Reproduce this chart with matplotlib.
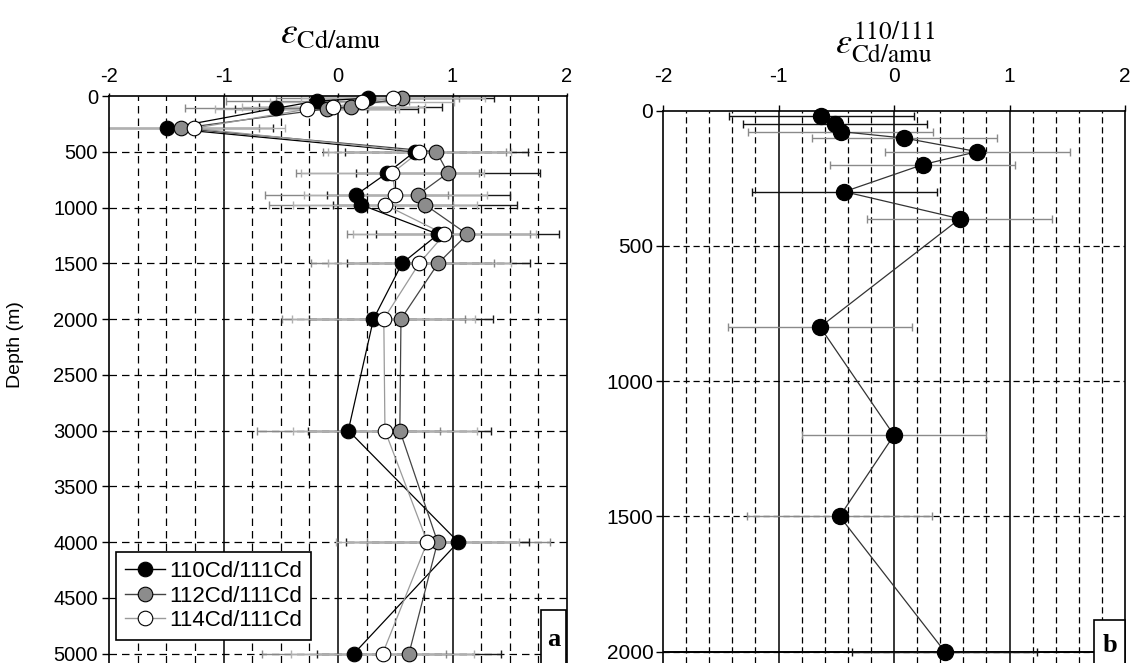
import matplotlib
matplotlib.use('Agg')
import matplotlib.pyplot as plt
from matplotlib.lines import Line2D
from matplotlib.patches import Rectangle

plt.rcParams['font.family'] = ['Liberation Sans', 'DejaVu Sans']
plt.rcParams['mathtext.fontset'] = 'stix'
plt.rcParams['axes.unicode_minus'] = False

# ---------------- data: panel a ----------------
a_black_depth = [20, 45, 110, 290, 500, 690, 885, 975, 1240, 1500, 2000, 3000, 4000, 5000]
a_black_eps = [0.26, -0.18, -0.54, -1.49, 0.67, 0.43, 0.16, 0.20, 0.875, 0.56, 0.31, 0.09, 1.05, 0.14]
a_black_err = [0.8, 0.8, 0.8, 0.8, 0.8, 0.8, 0.8, 0.8, 0.8, 0.8, 0.8, 0.8, 0.8, 0.8]

a_gray_depth = [20, 95, 115, 290, 500, 690, 885, 975, 1240, 1500, 2000, 3000, 4000, 5000]
a_gray_eps = [0.56, 0.11, -0.10, -1.37, 0.86, 0.96, 0.70, 0.76, 1.13, 0.875, 0.55, 0.54, 0.87, 0.62]
a_gray_err = [0.8, 0.8, 0.8, 0.8, 0.8, 0.8, 0.8, 0.8, 0.8, 0.8, 0.8, 0.8, 0.8, 0.8]

a_white_depth = [20, 57, 95, 118, 290, 500, 690, 885, 975, 1240, 1500, 2000, 3000, 4000, 5000]
a_white_eps = [0.48, 0.21, -0.04, -0.27, -1.26, 0.71, 0.475, 0.50, 0.41, 0.93, 0.71, 0.40, 0.41, 0.78, 0.39]
a_white_err = [0.8, 0.8, 0.8, 0.8, 0.8, 0.8, 0.8, 0.8, 0.8, 0.8, 0.8, 0.8, 0.8, 0.8, 0.8]

legend_labels = ['110Cd/111Cd', '112Cd/111Cd', '114Cd/111Cd']

# ---------------- data: panel b ----------------
b_depth = [22, 50, 78, 102, 152, 200, 300, 400, 800, 1200, 1500, 2000]
b_eps = [-0.63, -0.51, -0.46, 0.09, 0.72, 0.25, -0.43, 0.57, -0.64, 0.0, -0.47, 0.44]
b_err = [0.8, 0.8, 0.8, 0.8, 0.8, 0.8, 0.8, 0.8, 0.8, 0.8, 0.8, 0.8]

x_ticks = [-2, -1, 0, 1, 2]
a_y_ticks = [0, 500, 1000, 1500, 2000, 2500, 3000, 3500, 4000, 4500, 5000]
b_y_ticks = [0, 500, 1000, 1500, 2000]

W, H = 1131, 663
fig = plt.figure(figsize=(W / 100, H / 100), dpi=100)

axA = fig.add_axes([109 / W, 0, 458 / W, (H - 96) / H])
axB = fig.add_axes([663 / W, 0, 462 / W, (H - 110.5) / H])


def style(ax, ybottom, yticks, minor_step, dash, fs, xpad, xlen, ylen, ypad):
    ax.set_xlim(-2, 2)
    ax.set_ylim(ybottom, 0)
    ax.xaxis.tick_top()
    ax.set_xticks(x_ticks)
    ax.set_xticklabels([str(v) for v in x_ticks])
    ax.set_yticks(yticks)
    ax.set_yticklabels([str(v) for v in yticks])
    ax.tick_params(axis='x', direction='out', length=xlen, width=1, pad=xpad, labelsize=fs)
    ax.tick_params(axis='y', direction='out', length=ylen, width=1, pad=ypad, labelsize=fs)
    for s in ['top', 'left', 'right']:
        ax.spines[s].set_linewidth(1.2)
    ax.spines['bottom'].set_visible(False)
    n = int(round(4 / minor_step))
    for i in range(1, n):
        xv = -2 + i * minor_step
        if abs(xv - round(xv)) < 1e-6:
            ax.axvline(xv, color='k', lw=1.1, zorder=0.5)
        else:
            ax.axvline(xv, color='k', lw=0.9, ls=(0, dash), zorder=0.5)
    for yv in yticks[1:]:
        ax.axhline(yv, color='k', lw=0.9, ls=(0, dash), zorder=0.5)


style(axA, 5085, a_y_ticks, 0.25, (6, 4), 14.5, 5, 2.5, 5, 3)
style(axB, 2042, b_y_ticks, 0.2, (5, 3), 15, 14, 4, 5, 2)

# ---------------- panel a ----------------
series = [
    (a_black_eps, a_black_depth, a_black_err, 'black', '#888888', 'black', 4),
    (a_gray_eps, a_gray_depth, a_gray_err, '#8c8c8c', '#1a1a1a', '#444444', 5),
    (a_white_eps, a_white_depth, a_white_err, 'white', '#b0b0b0', '#9a9a9a', 6),
]
for xs, ys, es, fc, ec, lc, z in series:
    axA.errorbar(xs, ys, xerr=es, fmt='none', ecolor=ec, elinewidth=1.0,
                 capsize=3, capthick=1.0, zorder=2)
for xs, ys, es, fc, ec, lc, z in series:
    axA.plot(xs, ys, '-', color=lc, lw=0.9, zorder=3)
for xs, ys, es, fc, ec, lc, z in series:
    axA.plot(xs, ys, 'o', ms=10.5, mfc=fc, mec='black', mew=0.8, zorder=z, clip_on=False)

handles = [Line2D([], [], color=lc, lw=1.0, marker='o', ms=10.5, mfc=fc, mec='black', mew=0.8)
           for xs, ys, es, fc, ec, lc, z in series]
leg = axA.legend(handles, legend_labels, loc='lower left', bbox_to_anchor=(0.015, 0.041),
                 frameon=True, fancybox=False, edgecolor='black', framealpha=1,
                 fontsize=16, handlelength=1.8, handletextpad=0.2, labelspacing=0.15,
                 borderpad=0.4, borderaxespad=0)
leg.get_frame().set_linewidth(1.2)
leg.set_zorder(10)

# ---------------- panel b ----------------
b_dark = [True, True, False, False, False, False, True, False, False, False, False, True]
for xv, yv, ev, dk in zip(b_eps, b_depth, b_err, b_dark):
    axB.errorbar([xv], [yv], xerr=[ev], fmt='none', ecolor='#111111' if dk else '#8a8a8a',
                 elinewidth=1.0, capsize=3, capthick=1.0, zorder=2)
axB.axhline(2000, color='black', lw=1.4, zorder=1)
axB.plot(b_eps, b_depth, '-', color='#333333', lw=0.9, zorder=3)
axB.plot(b_eps, b_depth, 'o', ms=11.5, mfc='black', mec='black', zorder=4, clip_on=False)

# ---------------- titles and labels ----------------
fig.text(331 / W, 1 - 33 / H, r'$\varepsilon_{\mathrm{Cd/amu}}$', ha='center', va='center', fontsize=27)
fig.text(885 / W, 1 - 42 / H, r'$\varepsilon^{110/111}_{\mathrm{Cd/amu}}$', ha='center', va='center',
         fontsize=26)
fig.text(16 / W, 1 - 345 / H, 'Depth (m)', rotation=90, ha='center', va='center', fontsize=14)

# panel letters
for (x0, x1, y0, lab, cx, cy) in [(540.5, 566, 610, 'a', 553.5, 640), (1094, 1125, 620, 'b', 1110, 646)]:
    fig.add_artist(Rectangle((x0 / W, -0.01), (x1 - x0) / W, (H - y0) / H + 0.01,
                             transform=fig.transFigure, facecolor='white', edgecolor='black',
                             lw=1.2, zorder=20))
    fig.text(cx / W, 1 - cy / H, lab, ha='center', va='center', fontsize=19,
             family='Liberation Serif', weight='bold', zorder=21)

fig.savefig('out.png', dpi=100)
